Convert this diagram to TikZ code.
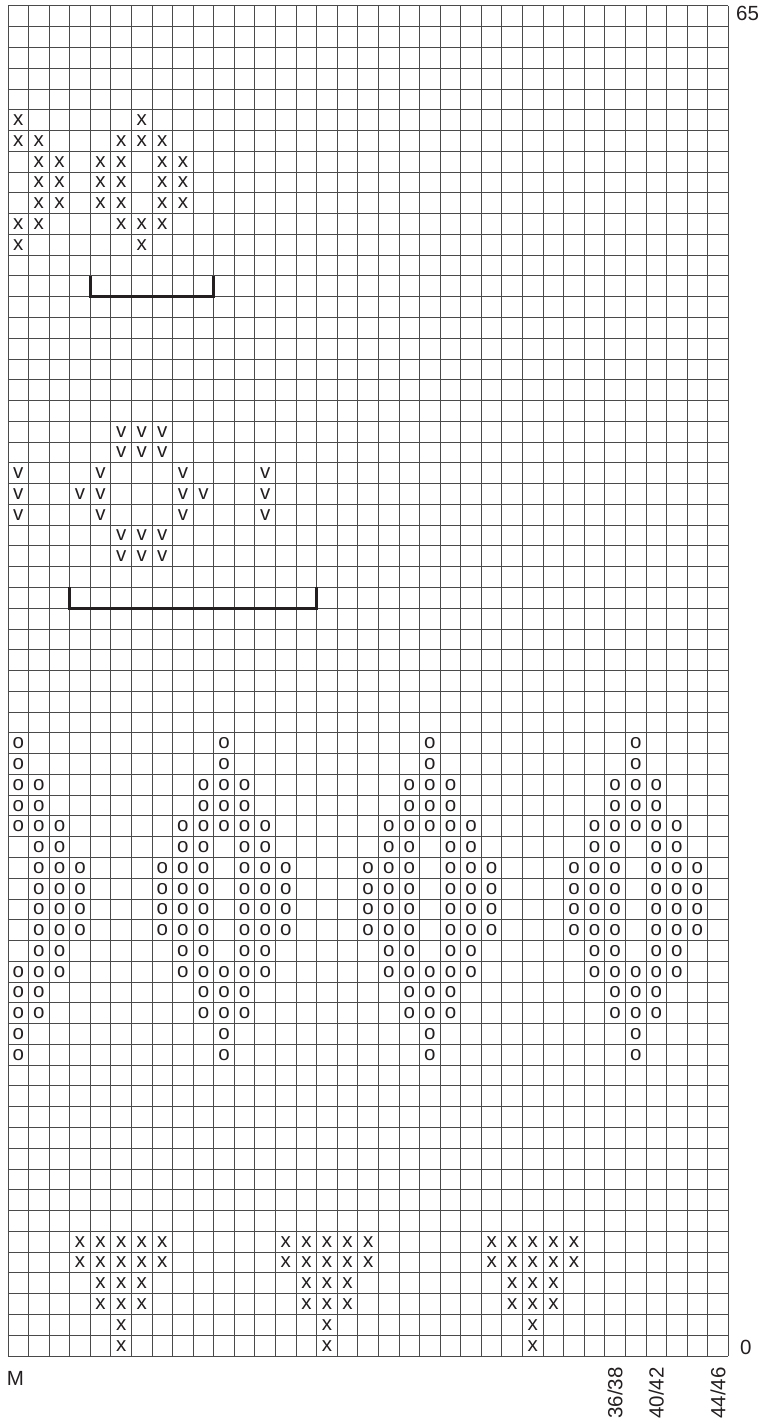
\documentclass[tikz,border=0pt]{standalone}
\usepackage{fontspec}
\setmainfont{Liberation Sans}
\usepackage{tikz}
\usetikzlibrary{positioning}

% marca de punto en la casilla (columna, fila)
\newcommand{\marcar}[3]{\node[marca] (m-#1-#2) at (#1-0.5,#2-0.5) {#3};}

\begin{document}
\begin{tikzpicture}[
    x=0.6174cm, y=0.6231cm,
    rejilla/.style={draw=cGRID, line width=0.85pt},
    marca/.style={inner sep=0pt, text=cTXT, font=\fontsize{17.5}{19}\selectfont},
    corchete/.style={draw=cTXT, line width=2.4pt},
    etiq/.style={inner sep=0pt, text=cTXT, font=\fontsize{17.5}{19}\selectfont}]

\definecolor{cGRID}{HTML}{4A4A4A}
\definecolor{cTXT}{HTML}{231F20}

\useasboundingbox (-0.3887,-3.2258) rectangle (36.686,65.286);

% REJILLA (35 columnas x 65 filas)
\foreach \i in {0,...,35} \draw[rejilla] (\i,0) -- (\i,65);
\foreach \j in {0,...,65} \draw[rejilla] (0,\j) -- (35,\j);

% Motivo x (arriba)
\foreach \fila/\cols in {60/{1,7}, 59/{1,2,6,7,8}, 58/{2,3,5,6,8,9}, 57/{2,3,5,6,8,9},
                         56/{2,3,5,6,8,9}, 55/{1,2,6,7,8}, 54/{1,7}}
  \foreach \col in \cols {\marcar{\col}{\fila}{x}}

% Motivo v
\foreach \fila/\cols in {45/{6,7,8}, 44/{6,7,8}, 43/{1,5,9,13}, 42/{1,4,5,9,10,13},
                         41/{1,5,9,13}, 40/{6,7,8}, 39/{6,7,8}}
  \foreach \col in \cols {\marcar{\col}{\fila}{v}}

% Motivo o (se repite cada 10 columnas)
\foreach \cen in {1,11,21,31}
  \foreach \fila/\offs in {30/{0}, 29/{0}, 28/{-1,0,1}, 27/{-1,0,1}, 26/{-2,-1,0,1,2},
                           25/{-2,-1,1,2}, 24/{-3,-2,-1,1,2,3}, 23/{-3,-2,-1,1,2,3},
                           22/{-3,-2,-1,1,2,3}, 21/{-3,-2,-1,1,2,3}, 20/{-2,-1,1,2},
                           19/{-2,-1,0,1,2}, 18/{-1,0,1}, 17/{-1,0,1}, 16/{0}, 15/{0}}
    \foreach \desp in \offs {
      \pgfmathtruncatemacro{\col}{\cen+\desp}
      \ifnum\col>0 \marcar{\col}{\fila}{o}\fi
    }

% Motivo x (abajo)
\foreach \cen in {6,16,26}
  \foreach \fila/\offs in {6/{-2,-1,0,1,2}, 5/{-2,-1,0,1,2}, 4/{-1,0,1}, 3/{-1,0,1}, 2/{0}, 1/{0}}
    \foreach \desp in \offs {
      \pgfmathtruncatemacro{\col}{\cen+\desp}
      \marcar{\col}{\fila}{x}
    }

% Corchetes
\draw[corchete] (4,52) -- (4,51) -- (10,51) -- (10,52);
\draw[corchete] (3,37) -- (3,36) -- (15,36) -- (15,37);

% Etiquetas
\node[etiq, anchor=base west] (fila65) at (35.37,64.32) {65};
\node[etiq, anchor=base west] (fila0) at (35.56,0.05) {0};
\node[etiq, anchor=base west] (marcaM) at (-0.06,-1.40) {M};
\node[etiq, rotate=90, anchor=east] (talla1) at (29.5,-0.53) {36/38};
\node[etiq, rotate=90, anchor=east] (talla2) at (31.5,-0.53) {40/42};
\node[etiq, rotate=90, anchor=east] (talla3) at (34.5,-0.53) {44/46};

\end{tikzpicture}
\end{document}
